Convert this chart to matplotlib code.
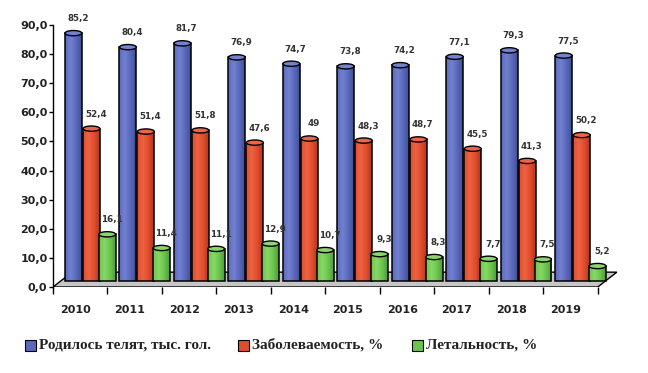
import numpy as np
import matplotlib
matplotlib.use('Agg')
import matplotlib.pyplot as plt
from matplotlib.colors import LinearSegmentedColormap
from matplotlib.patches import Rectangle, Ellipse, Polygon

years = ['2010', '2011', '2012', '2013', '2014', '2015', '2016', '2017', '2018', '2019']
born = [85.2, 80.4, 81.7, 76.9, 74.7, 73.8, 74.2, 77.1, 79.3, 77.5]
morbidity = [52.4, 51.4, 51.8, 47.6, 49, 48.3, 48.7, 45.5, 41.3, 50.2]
lethality = [16.1, 11.4, 11.1, 12.9, 10.7, 9.3, 8.3, 7.7, 7.5, 5.2]
series_names = ['Родилось телят, тыс. гол.', 'Заболеваемость, %', 'Летальность, %']

# (base colour, light, dark) for the cylinder shading
palette = [
    ('#5b69bd', '#7281d0', '#414e98'),
    ('#e24c2c', '#ec6443', '#b0381e'),
    ('#6cc44c', '#88d868', '#4c9c36'),
]

fig = plt.figure(figsize=(6.48, 3.73), dpi=100)
ax = fig.add_axes([53 / 648, 86 / 373, 572 / 648, 262 / 373])
ax.set_xlim(0, 10.5)
ax.set_ylim(0, 90)

lift = 2.0      # bars stand a bit behind the front edge of the floor
bw = 0.31
offsets = [0.22, 0.55, 0.84]

# floor
floor = Polygon([(0, 0), (10, 0), (10.35, 5.1), (0.35, 5.1)], closed=True,
                facecolor='#c6c6c6', edgecolor='black', lw=1.0, zorder=1)
ax.add_patch(floor)

grad = np.linspace(0, 1, 64).reshape(1, -1)
for s, values in enumerate([born, morbidity, lethality]):
    base, light, dark = palette[s]
    cmap = LinearSegmentedColormap.from_list('c%d' % s, [base, light, base, dark])
    for i, v in enumerate(values):
        x0 = i + offsets[s]
        x1 = x0 + bw
        y0 = lift
        y1 = lift + v
        ax.imshow(grad, extent=[x0, x1, y0, y1], aspect='auto', cmap=cmap,
                  zorder=3 + s, interpolation='bicubic')
        ax.add_patch(Rectangle((x0, y0), bw, v, fill=False, edgecolor='black',
                               lw=1.1, zorder=3 + s))
        ax.add_patch(Ellipse((x0 + bw / 2, y1), bw, 1.8, facecolor=light,
                             edgecolor='black', lw=1.0, zorder=3.5 + s))
        lbl = f'{v:g}'.replace('.', ',')
        ax.text(x0 + bw / 2 + 0.08, y1 + 5.0, lbl, ha='center', va='center',
                fontsize=6.3, fontweight='bold', color='#333333', zorder=10)

ax.set_xlim(0, 10.5)
ax.set_ylim(0, 90)

for sp in ['top', 'right', 'bottom']:
    ax.spines[sp].set_visible(False)
ax.spines['left'].set_linewidth(1.0)

ax.set_yticks(range(0, 91, 10))
ax.set_yticklabels([f'{t},0' for t in range(0, 91, 10)], fontsize=8,
                   fontweight='bold', color='#222222')
ax.tick_params(axis='y', length=3, width=1, pad=1)

ax.set_xticks(range(11))
ax.set_xticklabels([])
ax.tick_params(axis='x', which='major', length=5, width=1, direction='out')
ax.set_xticks([i + 0.41 for i in range(10)], minor=True)
ax.set_xticklabels(years, minor=True, fontsize=8, fontweight='bold', color='#222222')
ax.tick_params(axis='x', which='minor', length=0, pad=13)

# legend
legend_x = [25, 238, 412]
for k, name in enumerate(series_names):
    x = legend_x[k] / 648
    y = 28 / 373
    fig.patches.append(Rectangle((x, y - 5.5 / 373), 11 / 648, 11 / 373,
                                 transform=fig.transFigure, facecolor=palette[k][0],
                                 edgecolor='black', lw=0.8))
    fig.text(x + 14 / 648, y, name, ha='left', va='center', fontsize=11,
             fontweight='bold', family='Liberation Serif', color='#222222')

fig.savefig('out.png', dpi=100)
